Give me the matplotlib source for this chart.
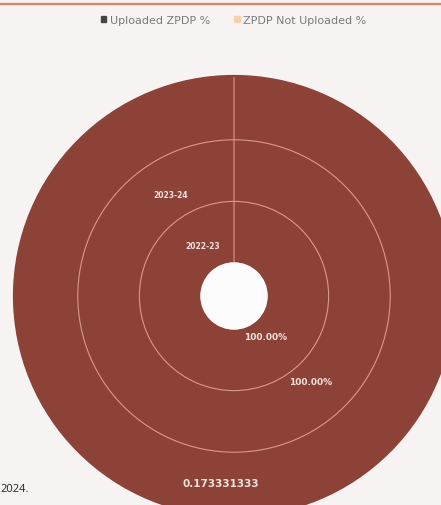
import numpy as np
import matplotlib.pyplot as plt
from matplotlib.lines import Line2D
from matplotlib.patches import Patch

# ring data (inner -> outer)
years = ["2022-23", "2023-24", "2024-25"]
uploaded = [100.0, 100.0, 100.0]
not_uploaded = [0.0, 0.0, 0.0]
value_labels = ["100.00%", "100.00%", "0.173331333"]
show_name = [True, True, False]
series_names = ["Uploaded ZPDP %", "ZPDP Not Uploaded %"]

ring_color = "#8d4238"
edge_color = "#d99a8a"
bg = "#f7f3f3"

fig = plt.figure(figsize=(4.41, 5.06), dpi=100, facecolor=bg)
# 1 data unit = 220 px, centre of the rings at (234, 297) px from top-left
lim = 1.05
side = 2 * lim * 220
ax = fig.add_axes([(234 - side / 2) / 441, (506 - 297 - side / 2) / 506, side / 441, side / 506])
ax.set_facecolor(bg)

radii = [0.44, 0.72, 1.0]
width = 0.29
for i in range(len(years)):
    ax.pie([uploaded[i], not_uploaded[i]], radius=radii[i], startangle=90,
           counterclock=False, colors=[ring_color, "#f4c9a8"],
           wedgeprops=dict(width=width, edgecolor=edge_color, linewidth=0.8))

# hide the light edge on the outer rim
ax.add_patch(plt.Circle((0, 0), 1.0, fill=False, edgecolor=ring_color, lw=1.6, zorder=4))
# hole
ax.add_patch(plt.Circle((0, 0), radii[0] - width, color="#fdfcfc", zorder=5))

ax.set_xlim(-lim, lim)
ax.set_ylim(-lim, lim)
ax.set_aspect("equal")
ax.axis("off")

name_ang = np.deg2rad(90 + 32)
name_r = [0.27, 0.545, 0.85]
val_ang = np.deg2rad([90 - 142, 90 - 138, 90 - 184])
val_r = [0.236, 0.52, 0.85]
val_fs = [6.5, 6.5, 7.5]
for i in range(len(years)):
    if show_name[i]:
        ax.text(name_r[i] * np.cos(name_ang), name_r[i] * np.sin(name_ang), years[i],
                ha="center", va="center", fontsize=5.5, fontweight="bold",
                color="#f3e2dc", zorder=6)
    ax.text(val_r[i] * np.cos(val_ang[i]), val_r[i] * np.sin(val_ang[i]), value_labels[i],
            ha="center", va="center", fontsize=val_fs[i], fontweight="bold",
            color="#f3e2dc", zorder=6)

# legend
handles = [Patch(color="#444444"), Patch(color="#f6cfae")]
fig.legend(handles, series_names, loc="center", bbox_to_anchor=(0.53, 0.958),
           ncol=2, frameon=False, fontsize=8, handlelength=0.5, handleheight=0.5,
           handletextpad=0.3, columnspacing=2.2, labelcolor="#7a7a7a")

# top rule
fig.add_artist(Line2D([0, 1], [1 - 5 / 506, 1 - 5 / 506], color="#d9825f", linewidth=1.6))

fig.text(0.0, 1 - 490 / 506, "2024.", fontsize=8, color="#222222",
         family="Open Sans", va="center", ha="left")

fig.savefig("out.png", dpi=100, facecolor=bg)
